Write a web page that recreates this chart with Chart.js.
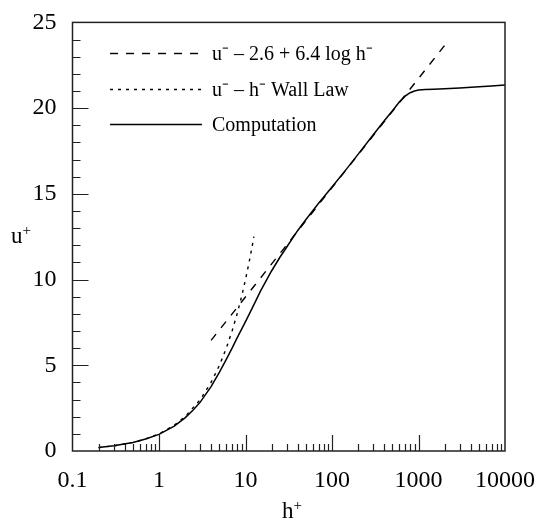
<!DOCTYPE html>
<html>
<head>
<meta charset="utf-8">
<script src="https://cdn.jsdelivr.net/npm/chart.js@4.4.1/dist/chart.umd.min.js"></script>
<style>
  html, body { margin: 0; padding: 0; background: #fff; }
  #wrap { width: 542px; height: 524px; }
</style>
</head>
<body>
<div id="wrap"><canvas id="grafico" width="542" height="524"></canvas></div>
<script>
// dados
const hComp = [0.2, 0.3, 0.5, 0.7, 1, 1.5, 2, 2.5, 3, 4, 5, 6, 7, 8, 10, 12, 15, 20, 25, 30, 40, 50, 70, 100, 150, 200, 300, 400, 500, 600, 700, 800, 900, 1000, 1200, 1500, 2000, 3000, 5000, 7000, 10000]
const uComp = [0.2, 0.3, 0.5, 0.7, 0.97, 1.45, 1.93, 2.4, 2.85, 3.75, 4.6, 5.35, 6.0, 6.6, 7.55, 8.35, 9.35, 10.5, 11.3, 11.9, 12.85, 13.5, 14.45, 15.4, 16.5, 17.3, 18.45, 19.25, 19.85, 20.35, 20.7, 20.9, 21.0, 21.05, 21.08, 21.1, 21.13, 21.18, 21.24, 21.29, 21.35]

const hWall = [0.2, 0.3, 0.5, 0.7, 1, 1.5, 2, 3, 4, 5, 6, 7, 8, 9, 10, 11, 12, 12.5]
const uWall = [0.2, 0.3, 0.5, 0.7, 1, 1.5, 2, 3, 4, 5, 6, 7, 8, 9, 10, 11, 12, 12.5]

const hLog = [4, 2000]
const uLog = [6.45, 23.65]

const xTicks = [0.1, 1, 10, 100, 1000, 10000]
const yTicks = [0, 5, 10, 15, 20, 25]

const labels = ['u\u207B \u2013 2.6 + 6.4 log h\u207B', 'u\u207B \u2013 h\u207B Wall Law', 'Computation']

const pts = (xs, ys) => xs.map((x, i) => ({ x: x, y: ys[i] }))
const serif = "'Liberation Serif', 'Times New Roman', serif"

// titulo com sobrescrito "+"
function tituloSup(c, base, x, y) {
    c.font = '23px ' + serif
    const w = c.measureText(base).width
    c.font = '15px ' + serif
    const w2 = c.measureText('+').width
    const x0 = x - (w + w2) / 2
    c.textAlign = 'left'
    c.font = '23px ' + serif
    c.fillText(base, x0, y)
    c.font = '15px ' + serif
    c.fillText('+', x0 + w, y - 8)
}

// moldura, marcas internas, legenda e titulos
const framePlugin = {
    id: 'frame',
    afterDraw(chart) {
        const c = chart.ctx
        const a = chart.chartArea
        const sx = chart.scales.x
        const sy = chart.scales.y
        c.save()
        c.strokeStyle = '#222'
        c.lineWidth = 1.5
        c.strokeRect(a.left, a.top, a.right - a.left, a.bottom - a.top)

        c.lineWidth = 1.2
        c.beginPath()
        for (let v = 1; v < 25; v++) {
            const y = Math.round(sy.getPixelForValue(v)) + 0.5
            const len = v % 5 === 0 ? 16 : 8
            c.moveTo(a.left, y)
            c.lineTo(a.left + len, y)
        }
        for (let d = 0; d < xTicks.length - 1; d++) {
            for (let m = 1; m <= 9; m++) {
                const v = xTicks[d] * m
                if (m === 1 && d === 0) continue
                const x = Math.round(sx.getPixelForValue(v)) + 0.5
                const len = m === 1 ? 16 : 7
                c.moveTo(x, a.bottom)
                c.lineTo(x, a.bottom - len)
            }
        }
        c.stroke()

        // legenda
        const ds = chart.data.datasets
        const rows = [53, 89, 124]
        c.fillStyle = '#000'
        c.font = '20px ' + serif
        c.textBaseline = 'middle'
        ds.forEach((d, i) => {
            c.strokeStyle = '#000'
            c.lineWidth = 1.4
            c.setLineDash(d.borderDash || [])
            c.beginPath()
            c.moveTo(110, rows[i] + 0.5)
            c.lineTo(202, rows[i] + 0.5)
            c.stroke()
            c.fillText(d.label, 212, rows[i] + 2)
        })
        c.setLineDash([])

        // titulos dos eixos
        c.textBaseline = 'alphabetic'
        tituloSup(c, 'u', 21, 243)
        tituloSup(c, 'h', 292, 518)
        c.restore()
    }
}

const ctx = document.getElementById('grafico')
let grafico = new Chart(ctx, {
    type: 'scatter',
    data: {
        datasets: [{
            label: labels[0],
            data: pts(hLog, uLog),
            showLine: true,
            borderColor: '#000',
            borderWidth: 1.4,
            borderDash: [8, 8],
            pointRadius: 0
        }, {
            label: labels[1],
            data: pts(hWall, uWall),
            showLine: true,
            borderColor: '#000',
            borderWidth: 1.4,
            borderDash: [3, 5],
            pointRadius: 0,
            tension: 0
        }, {
            label: labels[2],
            data: pts(hComp, uComp),
            showLine: true,
            borderColor: '#000',
            borderWidth: 1.5,
            pointRadius: 0,
            tension: 0
        }]
    },
    options: {
        responsive: false,
        animation: false,
        devicePixelRatio: 1,
        layout: { padding: { left: 0, right: 36, top: 19, bottom: 0 } },
        plugins: {
            legend: { display: false },
            tooltip: { enabled: false }
        },
        scales: {
            x: {
                type: 'logarithmic',
                min: 0.1,
                max: 10000,
                grid: { display: false },
                border: { display: false },
                afterBuildTicks: scale => { scale.ticks = xTicks.map(v => ({ value: v })) },
                afterFit: scale => { scale.height = 73 },
                ticks: {
                    autoSkip: false,
                    maxRotation: 0,
                    padding: 7,
                    color: '#000',
                    font: { family: serif, size: 24 },
                    callback: v => String(v)
                }
            },
            y: {
                min: 0,
                max: 25,
                grid: { display: false },
                border: { display: false },
                afterBuildTicks: scale => { scale.ticks = yTicks.map(v => ({ value: v })) },
                afterFit: scale => { scale.width = 72.5 },
                ticks: {
                    padding: 8,
                    color: '#000',
                    font: { family: serif, size: 24 }
                }
            }
        }
    },
    plugins: [framePlugin]
})
</script>
</body>
</html>
